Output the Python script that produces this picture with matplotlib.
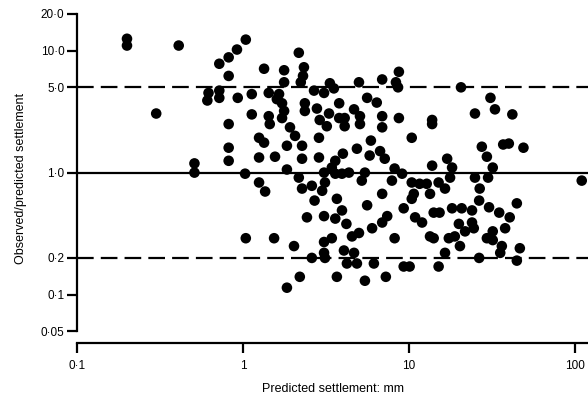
import matplotlib
matplotlib.use('Agg')
import matplotlib.pyplot as plt

plt.rcParams['font.family'] = ['Liberation Sans', 'DejaVu Sans']

# predicted settlement (mm) and observed/predicted ratio
pred_mm = [
    0.2, 0.2, 0.41, 0.30, 0.51, 0.51, 0.72, 0.82, 0.92, 1.04,
    0.82, 0.61, 0.62, 0.72, 0.72, 0.93, 0.82, 0.82, 0.82, 1.03, 1.04,
    1.13, 1.13, 1.34, 1.43, 1.43, 1.45, 1.25, 1.34, 1.25, 1.56,
    1.84, 1.84, 1.25, 1.36, 1.77, 1.77, 1.65, 1.72, 1.77, 1.92,
    2.06, 2.17, 2.33, 2.3, 2.23, 2.36, 2.36, 2.17, 2.27, 1.6,
    1.72, 2.68, 3.08, 3.34, 2.79, 3.3, 3.8, 3.8, 2.9, 3.2,
    2.27, 2.87, 2.27, 2.87, 3.6, 3.43, 3.53, 5.0, 6.9, 8.7,
    8.35, 8.6, 20.6, 31, 33, 25, 42, 13.8, 13.8, 8.7,
    5.6, 6.4, 4.67, 5.07, 5.07, 6.9, 6.9, 4.1, 4.1, 4.0,
    4.86, 5.9, 5.8, 6.7, 7.15, 10.4, 13.8, 17, 18.2, 17.7,
    27.5, 29.5, 32, 37, 40, 49, 110, 25, 30, 26.7,
    8.2, 7.9, 9.1, 10.4, 11.6, 12.8, 15.1, 16.5, 13.4, 10.7,
    6.9, 5.43, 5.2, 3.6, 3.95, 4.35, 3.08, 3.12, 3.0, 2.6,
    3.68, 2.7, 44.7, 26.5, 5.6, 30.4, 35, 40.5, 2.43, 3.08,
    3.95, 3.6, 4.2, 4.54, 5.0, 3.43, 3.08, 3.08, 4.06, 4.67,
    4.23, 4.86, 6.0, 6.9, 7.4, 8.2, 9.3, 10.4, 10.9, 12.0,
    14.1, 15.3, 14.1, 17.4, 18.9, 18.2, 20.8, 24, 20, 24,
    21.8, 24.6, 20.3, 16.5, 26.5, 29.5, 32, 38, 32, 36.3,
    46.6, 35.5, 44.7, 15.1, 13.4, 9.3, 10.1, 6.15, 2.03, 2.6,
    3.12, 2.2, 1.84, 3.68, 5.43, 7.26, 1.54,
]
obs_ratio = [
    12.5, 11, 11, 3.05, 1.19, 1.0, 7.8, 8.8, 10.2, 12.3,
    6.2, 3.9, 4.5, 4.1, 4.7, 4.1, 2.5, 1.6, 1.25, 0.98, 0.29,
    4.4, 3.0, 7.1, 4.5, 2.9, 2.5, 1.93, 1.76, 1.33, 1.35,
    1.66, 1.06, 0.83, 0.70, 6.9, 5.5, 4.4, 3.7, 3.2, 2.35,
    2.0, 9.6, 7.3, 6.2, 5.5, 3.7, 3.2, 0.91, 0.74, 4.0,
    2.8, 4.7, 4.5, 5.4, 3.35, 3.05, 3.7, 2.8, 2.7, 2.4,
    1.66, 1.93, 1.3, 1.33, 1.25, 1.1, 4.9, 5.5, 5.8, 6.7,
    5.5, 5.0, 5.0, 4.1, 3.3, 3.05, 3.0, 2.7, 2.5, 2.8,
    4.1, 3.75, 3.3, 2.9, 2.5, 2.9, 2.35, 2.8, 2.4, 1.43,
    1.57, 1.83, 1.38, 1.5, 1.3, 1.93, 1.14, 1.3, 1.1, 0.91,
    1.63, 1.35, 1.1, 1.7, 1.73, 1.6, 0.86, 0.91, 0.91, 0.74,
    1.08, 0.86, 0.98, 0.83, 0.81, 0.81, 0.83, 0.74, 0.67, 0.67,
    0.67, 1.0, 0.86, 0.98, 0.98, 1.0, 1.0, 0.83, 0.71, 0.78,
    0.61, 0.59, 0.56, 0.59, 0.54, 0.52, 0.47, 0.43, 0.43, 0.44,
    0.49, 0.42, 0.38, 0.30, 0.32, 0.29, 0.27, 0.22, 0.23, 0.22,
    0.18, 0.18, 0.35, 0.39, 0.44, 0.29, 0.51, 0.61, 0.43, 0.39,
    0.47, 0.47, 0.29, 0.29, 0.30, 0.51, 0.51, 0.49, 0.38, 0.39,
    0.33, 0.35, 0.25, 0.22, 0.20, 0.29, 0.33, 0.35, 0.28, 0.25,
    0.24, 0.22, 0.19, 0.17, 0.30, 0.17, 0.17, 0.18, 0.25, 0.2,
    0.20, 0.14, 0.114, 0.14, 0.13, 0.14, 0.29,
]

y_ticks = [0.05, 0.1, 0.2, 1, 5, 10, 20]
y_labels = ['0·05', '0·1', '0·2', '1·0', '5·0', '10·0', '20·0']
x_ticks = [0.1, 1, 10, 100]
x_labels = ['0·1', '1', '10', '100']

fig = plt.figure(figsize=(5.88, 3.96), dpi=100)
ax = fig.add_axes([0.131, 0.134, 0.869, 0.831])

ax.set_xscale('log')
ax.set_yscale('log')
ax.set_xlim(0.1, 120)
ax.set_ylim(0.0402, 20)

ax.axhline(1, color='black', lw=1.6, zorder=1)
for lim in (5, 0.2):
    ax.axhline(lim, color='black', lw=1.6, dashes=(7.5, 3.2), zorder=1)

ax.scatter(pred_mm, obs_ratio, s=58, color='black', edgecolors='none',
           zorder=3, clip_on=False)

for side in ('top', 'right'):
    ax.spines[side].set_visible(False)
ax.spines['left'].set_bounds(0.05, 20)
ax.spines['left'].set_linewidth(1.6)
ax.spines['bottom'].set_linewidth(1.6)

ax.set_yticks(y_ticks)
ax.set_yticklabels(y_labels)
ax.set_xticks(x_ticks)
ax.set_xticklabels(x_labels)
ax.minorticks_off()
ax.tick_params(direction='out', length=7, width=1.6, labelsize=8.5)
ax.tick_params(axis='y', pad=2)
ax.tick_params(axis='x', pad=5)

ax.set_xlabel('Predicted settlement: mm', fontsize=9, labelpad=8)
ax.set_ylabel('Observed/predicted settlement', fontsize=9, labelpad=10)

fig.savefig('out.png', dpi=100)
